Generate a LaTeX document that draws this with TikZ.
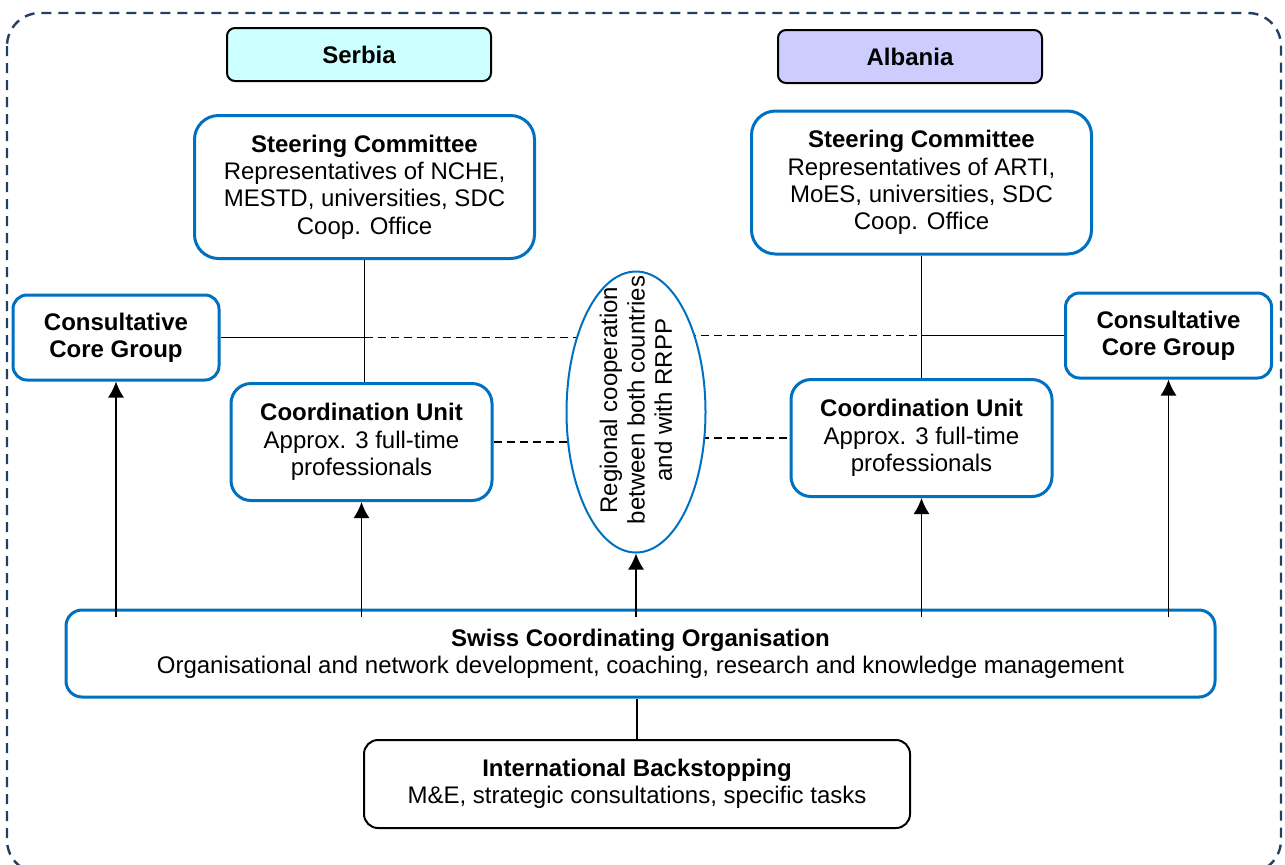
\documentclass[tikz,border=0pt]{standalone}
\usepackage{fontspec}
\setmainfont{Liberation Sans}
\usetikzlibrary{shapes.geometric, backgrounds, arrows.meta}
\definecolor{boxblue}{HTML}{0070C0}
\definecolor{framegray}{HTML}{243F60}
\definecolor{serbiafill}{HTML}{CCFFFF}
\definecolor{albaniafill}{HTML}{CCCCFF}

\begin{document}
\begin{tikzpicture}[x=0.5pt, y=-0.5pt,
    txt/.style={font=\fontsize{12}{13.7}\selectfont, align=center, inner sep=0pt},
    country/.style={txt, draw=black, line width=1pt, rounded corners=4pt,
        minimum width=132pt, minimum height=26.5pt,
        font=\fontsize{12}{13.7}\selectfont\bfseries},
    bluebox/.style={txt, draw=boxblue, line width=1.5pt, fill=white},
    sc/.style={bluebox, rounded corners=12pt, minimum width=170pt, minimum height=71.5pt},
    cu/.style={bluebox, rounded corners=10pt, minimum width=130.5pt, minimum height=58.5pt},
    ccg/.style={bluebox, rounded corners=7pt, minimum width=103pt, minimum height=42.5pt,
        font=\fontsize{12}{13.7}\selectfont\bfseries},
    link/.style={line width=0.75pt},
    dlink/.style={line width=0.9pt, dash pattern=on 4pt off 2.5pt},
    arr/.style={link, -{Latex[length=8pt, width=8pt]}}
]
\useasboundingbox (0,0) rectangle (1285,864);

% --- FRAME ---
\begin{scope}
    \clip (0,0) rectangle (1285,864);
    \draw[framegray, line width=1.2pt, dash pattern=on 5pt off 3.5pt,
        rounded corners=16.5pt] (7,13) rectangle (1281,873);
\end{scope}

% --- COUNTRIES ---
\node[country, fill=serbiafill] (serbia) at (359,54.5) {Serbia};
\node[country, fill=albaniafill] (albania) at (910,56.5) {Albania};

% --- SERBIA ---
\node[sc] (scS) at (364.5,187)
    {\textbf{Steering Committee}\\Representatives of NCHE,\\MESTD, universities, SDC\\Coop. Office};
\node[ccg] (ccgS) at (116,337.5) {Consultative\\Core Group};
\node[cu] (cuS) at (361.5,442)
    {\textbf{Coordination Unit}\\Approx. 3 full-time\\professionals};

% --- ALBANIA ---
\node[sc] (scA) at (921.5,182.5)
    {\textbf{Steering Committee}\\Representatives of ARTI,\\MoES, universities, SDC\\Coop. Office};
\node[ccg] (ccgA) at (1168.5,335.5) {Consultative\\Core Group};
\node[cu] (cuA) at (921.5,438)
    {\textbf{Coordination Unit}\\Approx. 3 full-time\\professionals};

% --- REGIONAL ---
\node[ellipse, draw=boxblue, line width=1pt, fill=white, inner sep=0pt,
    minimum width=69.5pt, minimum height=140.5pt] (reg) at (636,412) {};
\node[txt, rotate=90] (regtxt) at (636,400)
    {Regional cooperation\\between both countries\\and with RRPP};

% --- SWISS ORG + BACKSTOPPING ---
\node[bluebox, rounded corners=8pt, minimum width=574.5pt, minimum height=43.5pt] (sco) at (640.5,653.5)
    {\textbf{Swiss Coordinating Organisation}\\Organisational and network development, coaching, research and knowledge management};
\node[txt, draw=black, line width=1pt, rounded corners=7pt, fill=white,
    minimum width=273pt, minimum height=44pt] (ib) at (637,784)
    {\textbf{International Backstopping}\\M\&E, strategic consultations, specific tasks};

% --- LINKS ---
\begin{scope}[on background layer]
    \draw[dlink] (scS.south |- ccgS.east) -- (reg.center |- ccgS.east);
    \draw[dlink] (reg.center |- ccgA.west) -- (scA.south |- ccgA.west);
    \draw[dlink] (cuS.east) -- (reg.center |- cuS.east);
    \draw[dlink] (reg.center |- cuA.west) -- (cuA.west);
\end{scope}

\draw[link] (ccgS.east) -- (scS.south |- ccgS.east);
\draw[link] (scA.south |- ccgA.west) -- (ccgA.west);
\draw[link] (scS.south) -- (scS.south |- cuS.north);
\draw[link] (scA.south) -- (scA.south |- cuA.north);

\foreach \dst in {ccgS, cuS, reg, cuA, ccgA}
    \draw[arr] ([yshift=-4pt]sco.north -| \dst.south) -- (\dst.south);

\draw[link] (ib.north |- sco.south) -- (ib.north);

\end{tikzpicture}
\end{document}
